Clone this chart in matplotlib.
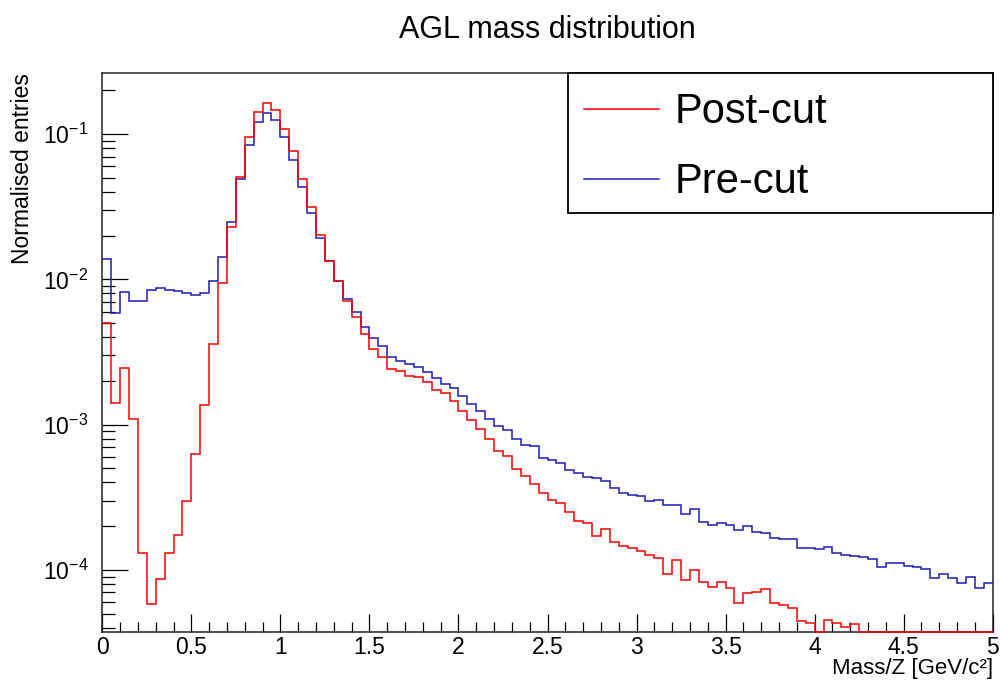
import numpy as np
import matplotlib
matplotlib.use("Agg")
import matplotlib.pyplot as plt
from matplotlib.ticker import LogLocator, NullFormatter, MultipleLocator
from matplotlib.patches import Rectangle
from matplotlib.lines import Line2D

plt.rcParams['font.family'] = ['Liberation Sans', 'DejaVu Sans']
plt.rcParams['mathtext.fontset'] = 'custom'
plt.rcParams['mathtext.rm'] = 'Liberation Sans'
plt.rcParams['mathtext.it'] = 'Liberation Sans:italic'
plt.rcParams['mathtext.bf'] = 'Liberation Sans:bold'

# ---------------- data ----------------
title = "AGL mass distribution"
x_label = "Mass/Z [GeV/c\u00b2]"
y_label = "Normalised entries"
series_labels = ["Post-cut", "Pre-cut"]

bin_low, bin_high, n_bins = 0.0, 5.0, 100

pre_cut = [
    0.0137, 0.00583, 0.00818, 0.00713, 0.00713, 0.00844, 0.00867, 0.0085, 0.0083, 0.0080,
    0.00785, 0.0080, 0.00968, 0.01416, 0.0249, 0.049, 0.084, 0.1205, 0.140, 0.1248,
    0.0959, 0.0662, 0.043, 0.0285, 0.0191, 0.0134, 0.0098, 0.00731, 0.00596, 0.00468,
    0.00393, 0.00348, 0.00293, 0.00274, 0.0026, 0.00251, 0.00229, 0.0021, 0.00189, 0.00178,
    0.00157, 0.00138, 0.00124, 0.0011, 0.00098, 0.000918, 0.000796, 0.000724, 0.000713, 0.000592,
    0.00057, 0.000547, 0.000487, 0.000462, 0.000434, 0.000427, 0.000411, 0.000368, 0.00034, 0.000326,
    0.000324, 0.0003, 0.000305, 0.00028, 0.00028, 0.000243, 0.000264, 0.000215, 0.000204, 0.000209,
    0.000204, 0.000188, 0.0002, 0.000183, 0.00018, 0.000167, 0.000162, 0.000162, 0.000142, 0.000141,
    0.000139, 0.000143, 0.000131, 0.000127, 0.000125, 0.000123, 0.000118, 0.000104, 0.000111, 0.000111,
    0.000107, 0.000104, 0.000101, 8.75e-5, 9.37e-5, 8.75e-5, 8.1e-5, 8.9e-5, 7.5e-5, 8.1e-5,
]

post_cut = [
    0.005, 0.00142, 0.00244, 0.0011, 0.00013, 5.8e-5, 8.6e-5, 0.00013, 0.000174, 0.000298,
    0.000628, 0.00136, 0.00359, 0.00937, 0.023, 0.0508, 0.0949, 0.141, 0.1626, 0.146,
    0.1087, 0.0763, 0.0493, 0.0316, 0.0203, 0.0134, 0.0098, 0.00713, 0.00547, 0.00421,
    0.00331, 0.00293, 0.00242, 0.00234, 0.00216, 0.00214, 0.00197, 0.00173, 0.00164, 0.00145,
    0.00124, 0.00108, 0.00093, 0.000796, 0.000658, 0.000608, 0.000498, 0.000443, 0.00039, 0.00034,
    0.000303, 0.000287, 0.000252, 0.000217, 0.000211, 0.000171, 0.000192, 0.000156, 0.000145, 0.000141,
    0.000135, 0.000127, 0.00012, 9.4e-5, 0.000117, 8.5e-5, 0.0001, 8.2e-5, 7.6e-5, 8.2e-5,
    7.5e-5, 5.9e-5, 6.9e-5, 7.08e-5, 7.35e-5, 5.9e-5, 5.74e-5, 5.44e-5, 4.47e-5, 4.28e-5,
    0.0, 4.52e-5, 4.28e-5, 4.06e-5, 4.25e-5, 0.0, 0.0, 0.0, 0.0, 0.0,
    0.0, 0.0, 0.0, 0.0, 0.0, 0.0, 0.0, 0.0, 0.0, 0.0,
]

y_min, y_max = 3.74e-5, 0.263

# ---------------- style ----------------
red = '#ff0000'
blue = '#1c1cb4'
lw = 1.1

fig = plt.figure(figsize=(10, 6.81), dpi=100)
L, R, T, B = 102.3, 992.7, 73, 632
ax = fig.add_axes([L / 1000, 1 - B / 681, (R - L) / 1000, (B - T) / 681])

edges = np.linspace(bin_low, bin_high, n_bins + 1)
pre = np.asarray(pre_cut)
post = np.asarray(post_cut)
# ROOT draws empty bins along the bottom of the frame
post_draw = np.where(post > 0, post, y_min)
pre_draw = np.where(pre > 0, pre, y_min)

ax.stairs(pre_draw, edges, baseline=None, color=blue, lw=lw, zorder=3, clip_on=False)
ax.stairs(post_draw, edges, baseline=None, color=red, lw=lw, zorder=4, clip_on=False)

ax.set_yscale('log')
ax.set_xlim(bin_low, bin_high)
ax.set_ylim(y_min, y_max)

ax.yaxis.set_major_locator(LogLocator(base=10, numticks=20))
ax.yaxis.set_minor_locator(LogLocator(base=10, subs=np.arange(2, 10), numticks=20))
ax.yaxis.set_minor_formatter(NullFormatter())
ax.xaxis.set_major_locator(MultipleLocator(0.5))
ax.xaxis.set_minor_locator(MultipleLocator(0.1))
ax.xaxis.set_major_formatter(matplotlib.ticker.FuncFormatter(lambda v, p: f"{v:g}"))

for s in ax.spines.values():
    s.set_linewidth(1.1)
    s.set_color('#222222')
    s.set_zorder(2)

ax.tick_params(axis='y', which='major', direction='in', length=18.7, width=0.9,
               labelsize=16.5, pad=10, right=False)
ax.tick_params(axis='y', which='minor', direction='in', length=9.4, width=0.9, right=False)
ax.tick_params(axis='x', which='major', direction='in', length=13, width=0.9,
               labelsize=16.5, pad=3, top=False)
ax.tick_params(axis='x', which='minor', direction='in', length=7.2, width=0.9, top=False)

# titles
fig.text((L + R) / 2 / 1000, 1 - 38 / 681, title, ha='center', va='baseline', fontsize=22)
fig.text(R / 1000, 1 - 674 / 681, x_label, ha='right', va='baseline', fontsize=16)
fig.text(23 / 1000, 1 - T / 681, y_label, ha='center', va='top', rotation=90, fontsize=16.5)

# legend box (ROOT TLegend style)
lx0, ly0 = (568 - L) / (R - L), (B - 213) / (B - T)
ax.add_patch(Rectangle((lx0, ly0), 1 - lx0, 1 - ly0, transform=ax.transAxes,
                       facecolor='white', edgecolor='black', lw=1.3, zorder=10, clip_on=False))
line_x0, line_x1 = (584 - L) / (R - L), (659 - L) / (R - L)
text_x = (675 - L) / (R - L)
for lab, col, ly, ty in [(series_labels[0], red, 109.3, 123.3), (series_labels[1], blue, 179, 193.3)]:
    yl = (B - ly) / (B - T)
    ax.add_line(Line2D([line_x0, line_x1], [yl, yl], transform=ax.transAxes,
                       color=col, lw=lw, zorder=11, clip_on=False))
    ax.text(text_x, (B - ty) / (B - T), lab, transform=ax.transAxes, ha='left',
            va='baseline', fontsize=30, zorder=12)

fig.savefig("out.png", dpi=100)
